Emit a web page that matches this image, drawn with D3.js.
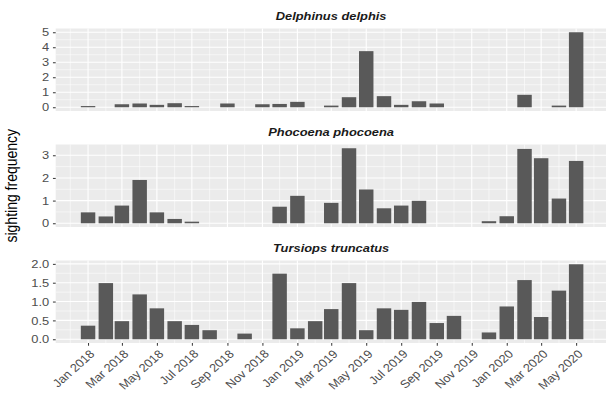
<!DOCTYPE html>
<html>
<head>
<meta charset="utf-8">
<script src="https://cdn.jsdelivr.net/npm/d3@7"></script>
<style>
  html, body { margin: 0; padding: 0; background: #ffffff; }
  svg { display: block; font-family: "Liberation Sans", Arial, Helvetica, sans-serif; }
</style>
</head>
<body>
<svg id="chart" width="606" height="403"></svg>
<script>
// ---- data ----
const months = ["2018-01","2018-02","2018-03","2018-04","2018-05","2018-06","2018-07","2018-08","2018-09","2018-10","2018-11","2018-12",
                "2019-01","2019-02","2019-03","2019-04","2019-05","2019-06","2019-07","2019-08","2019-09","2019-10","2019-11","2019-12",
                "2020-01","2020-02","2020-03","2020-04","2020-05"];
const species = ["Delphinus delphis", "Phocoena phocoena", "Tursiops truncatus"];
const delphinus = [0.08, null, 0.20, 0.25, 0.16, 0.27, 0.08, null, 0.25, null, 0.20, 0.22,
                   0.36, null, 0.11, 0.67, 3.74, 0.74, 0.16, 0.40, 0.25, null, null, null,
                   null, 0.83, null, 0.11, 5.00];
const phocoena  = [0.48, 0.30, 0.78, 1.91, 0.48, 0.19, 0.07, null, null, null, null, 0.73,
                   1.21, null, 0.90, 3.31, 1.49, 0.66, 0.78, 0.99, null, null, null, 0.09,
                   0.31, 3.28, 2.87, 1.09, 2.75];
const tursiops  = [0.36, 1.49, 0.48, 1.19, 0.82, 0.48, 0.38, 0.24, null, 0.15, null, 1.74,
                   0.29, 0.48, 0.80, 1.49, 0.24, 0.82, 0.78, 0.99, 0.43, 0.62, null, 0.18,
                   0.87, 1.57, 0.59, 1.29, 1.99];
const yTicks = [[0,1,2,3,4,5], [0,1,2,3], [0,0.5,1,1.5,2]];
const yTickLabels = [["0","1","2","3","4","5"], ["0","1","2","3"], ["0.0","0.5","1.0","1.5","2.0"]];
const yMinor = [[0.5,1.5,2.5,3.5,4.5], [0.5,1.5,2.5], [0.25,0.75,1.25,1.75]];
const xTickMonths = ["2018-01","2018-03","2018-05","2018-07","2018-09","2018-11","2019-01","2019-03","2019-05","2019-07","2019-09","2019-11","2020-01","2020-03","2020-05"];
const xTickLabels = ["Jan 2018","Mar 2018","May 2018","Jul 2018","Sep 2018","Nov 2018","Jan 2019","Mar 2019","May 2019","Jul 2019","Sep 2019","Nov 2019","Jan 2020","Mar 2020","May 2020"];
const xMinorMonths = ["2017-12","2018-02","2018-04","2018-06","2018-08","2018-10","2018-12","2019-02","2019-04","2019-06","2019-08","2019-10","2019-12","2020-02","2020-04","2020-06"];
const yTitle = "sighting frequency";
const seriesValues = [delphinus, phocoena, tursiops];

// ---- layout ----
const svg = d3.select("#chart");
const parse = d3.utcParse("%Y-%m");
const DAY = 86400000;
const barDays = 25.2;
const SX = 1.12; // horizontal text stretch of the reference rendering
const dates = months.map(parse);
const extent0 = +dates[0] - barDays/2*DAY, extent1 = +dates[dates.length-1] + barDays/2*DAY;
const pad = (extent1 - extent0) * 0.05;
const panelLeft = 55.7, panelRight = 608.5;
const x = d3.scaleUtc().domain([new Date(extent0 - pad), new Date(extent1 + pad)]).range([panelLeft, panelRight]);
const barW = x(new Date(+dates[0] + barDays*DAY)) - x(dates[0]);

const panelTops = [28.5, 144.5, 260.5];
const panelH = 82.5;
const stripY = [19.5, 135.5, 251.5];

species.forEach((name, p) => {
  const vals = seriesValues[p];
  const maxV = d3.max(vals);
  const top = panelTops[p], bottom = top + panelH;
  const y = d3.scaleLinear().domain([-0.05*maxV, maxV*1.05]).range([bottom, top]);
  const g = svg.append("g");

  g.append("rect").attr("x", panelLeft).attr("y", top).attr("width", panelRight - panelLeft).attr("height", panelH).attr("fill", "#EBEBEB");

  g.selectAll(".hminor").data(yMinor[p].filter(v => v <= y.domain()[1])).join("line")
    .attr("x1", panelLeft).attr("x2", panelRight).attr("y1", d => y(d)).attr("y2", d => y(d))
    .attr("stroke", "#ffffff").attr("stroke-width", 0.55);
  g.selectAll(".vminor").data(xMinorMonths.map(parse)).join("line")
    .attr("x1", d => x(d)).attr("x2", d => x(d)).attr("y1", top).attr("y2", bottom)
    .attr("stroke", "#ffffff").attr("stroke-width", 0.55);
  g.selectAll(".hmajor").data(yTicks[p]).join("line")
    .attr("x1", panelLeft).attr("x2", panelRight).attr("y1", d => y(d)).attr("y2", d => y(d))
    .attr("stroke", "#ffffff").attr("stroke-width", 1.1);
  g.selectAll(".vmajor").data(xTickMonths.map(parse)).join("line")
    .attr("x1", d => x(d)).attr("x2", d => x(d)).attr("y1", top).attr("y2", bottom)
    .attr("stroke", "#ffffff").attr("stroke-width", 1.1);

  const data = months.map((m, i) => ({date: dates[i], v: vals[i]})).filter(d => d.v !== null);
  g.selectAll(".bar").data(data).join("rect")
    .attr("x", d => x(d.date) - barW/2)
    .attr("width", barW)
    .attr("y", d => y(d.v))
    .attr("height", d => y(0) - y(d.v))
    .attr("fill", "#595959");

  const yAxis = d3.axisLeft(y).tickValues(yTicks[p]).tickFormat((d, i) => yTickLabels[p][i]).tickSize(2.75).tickPadding(2.5);
  const ya = g.append("g").attr("transform", `translate(${panelLeft},0)`).call(yAxis);
  ya.select(".domain").remove();
  ya.selectAll(".tick line").attr("stroke", "#333333").attr("stroke-width", 1);
  ya.selectAll(".tick text").attr("fill", "#4D4D4D").style("font-size", "11.5px")
    .attr("x", 0).attr("transform", `translate(-6.5,0) scale(${SX},1)`);

  svg.append("text")
    .attr("transform", `translate(${(panelLeft + panelRight) / 2 - 1},${stripY[p]}) scale(${SX},1)`)
    .attr("text-anchor", "middle").style("font-size", "11.5px").style("font-weight", "bold").style("font-style", "italic")
    .attr("fill", "#1A1A1A").text(name);

  if (p === species.length - 1) {
    const xAxis = d3.axisBottom(x).tickValues(xTickMonths.map(parse)).tickFormat((d, i) => xTickLabels[i]).tickSize(2.75).tickPadding(2.5);
    const xa = g.append("g").attr("transform", `translate(0,${bottom})`).call(xAxis);
    xa.select(".domain").remove();
    xa.selectAll(".tick line").attr("stroke", "#333333").attr("stroke-width", 1);
    xa.selectAll(".tick text")
      .attr("fill", "#4D4D4D").style("font-size", "11.5px")
      .attr("text-anchor", "end")
      .attr("transform", `translate(0,5.5) scale(${SX},1) rotate(-45)`)
      .attr("y", 0).attr("x", 0).attr("dy", "0.75em");
  }
});

svg.append("text")
  .attr("transform", `translate(17,${(panelTops[0] + panelTops[2] + panelH) / 2}) scale(${SX},1) rotate(-90)`)
  .attr("text-anchor", "middle").style("font-size", "14px").attr("fill", "#000000").text(yTitle);
</script>
</body>
</html>
